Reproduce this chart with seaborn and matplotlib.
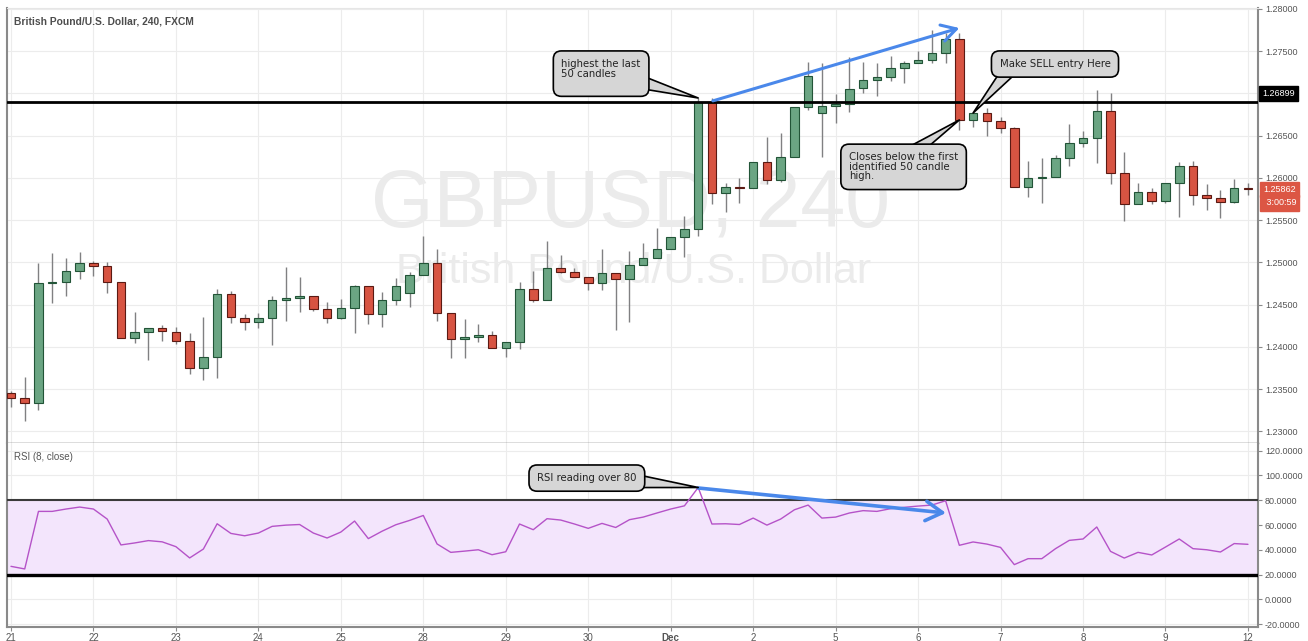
import numpy as np
import pandas as pd
import matplotlib.pyplot as plt
import matplotlib.transforms as mtransforms
import seaborn as sns

# GBPUSD 4h candles
opens = [1.23453, 1.23394, 1.23335, 1.24755, 1.24767, 1.24897, 1.24992, 1.24956, 1.24767, 1.24104,
         1.24175, 1.24222, 1.24175, 1.24069, 1.23749, 1.23879, 1.24625, 1.24341, 1.24293, 1.24341,
         1.24554, 1.24577, 1.24601, 1.24447, 1.24341, 1.24459, 1.24719, 1.24388, 1.24554, 1.24637,
         1.24850, 1.24992, 1.24400, 1.24092, 1.24116, 1.24140, 1.23986, 1.24057, 1.24684, 1.24554,
         1.24932, 1.24885, 1.24826, 1.24755, 1.24873, 1.24802, 1.24968, 1.25051, 1.25157, 1.25299,
         1.25394, 1.26899, 1.25820, 1.25891, 1.25879, 1.26187, 1.25974, 1.26246, 1.26837, 1.26766,
         1.26849, 1.26873, 1.27062, 1.27157, 1.27192, 1.27299, 1.27358, 1.27394, 1.27476, 1.27642,
         1.26684, 1.26766, 1.26672, 1.26589, 1.25891, 1.25997, 1.26009, 1.26234, 1.26411, 1.26471,
         1.26790, 1.26057, 1.25690, 1.25832, 1.25725, 1.25938, 1.26139, 1.25796, 1.25761, 1.25713,
         1.25879]
highs = [1.23477, 1.23643, 1.24992, 1.25110, 1.25051, 1.25122, 1.25015, 1.25003, 1.24767, 1.24412,
         1.24222, 1.24258, 1.24234, 1.24163, 1.24353, 1.24684, 1.24660, 1.24388, 1.24400, 1.24601,
         1.24944, 1.24826, 1.24601, 1.24530, 1.24566, 1.24731, 1.24719, 1.24648, 1.24814, 1.24885,
         1.25311, 1.25157, 1.24400, 1.24329, 1.24270, 1.24187, 1.24057, 1.24767, 1.24897, 1.25252,
         1.25086, 1.24932, 1.24826, 1.25157, 1.24873, 1.25134, 1.25228, 1.25406, 1.25299, 1.25548,
         1.26944, 1.26944, 1.25938, 1.25997, 1.26187, 1.26482, 1.26530, 1.26837, 1.27370, 1.27358,
         1.26991, 1.27429, 1.27370, 1.27358, 1.27441, 1.27382, 1.27500, 1.27749, 1.27713, 1.27713,
         1.26778, 1.26826, 1.26719, 1.26601, 1.26199, 1.26234, 1.26270, 1.26636, 1.26553, 1.27039,
         1.27003, 1.26305, 1.25938, 1.25879, 1.25938, 1.26187, 1.26199, 1.25926, 1.25855, 1.25985,
         1.25938]
lows = [1.23288, 1.23122, 1.23252, 1.24518, 1.24601, 1.24802, 1.24838, 1.24637, 1.24104, 1.24045,
        1.23844, 1.24069, 1.24033, 1.23678, 1.23607, 1.23631, 1.24282, 1.24199, 1.24222, 1.24021,
        1.24305, 1.24412, 1.24424, 1.24282, 1.24329, 1.24163, 1.24270, 1.24234, 1.24495, 1.24471,
        1.24850, 1.24305, 1.23867, 1.23867, 1.24057, 1.23986, 1.23879, 1.23974, 1.24530, 1.24554,
        1.24873, 1.24826, 1.24672, 1.24672, 1.24199, 1.24293, 1.24968, 1.25051, 1.25157, 1.25063,
        1.25311, 1.25690, 1.25595, 1.25702, 1.25879, 1.25926, 1.25950, 1.26246, 1.26802, 1.26246,
        1.26648, 1.26778, 1.27003, 1.26968, 1.27145, 1.27121, 1.27358, 1.27358, 1.27358, 1.26565,
        1.26601, 1.26494, 1.26530, 1.25891, 1.25773, 1.25702, 1.26009, 1.26139, 1.26364, 1.26175,
        1.25926, 1.25489, 1.25690, 1.25690, 1.25702, 1.25536, 1.25678, 1.25619, 1.25524, 1.25702,
        1.25796]
closes = [1.23394, 1.23335, 1.24755, 1.24767, 1.24897, 1.24992, 1.24956, 1.24767, 1.24104, 1.24175,
          1.24222, 1.24187, 1.24069, 1.23749, 1.23879, 1.24625, 1.24353, 1.24293, 1.24341, 1.24554,
          1.24577, 1.24601, 1.24447, 1.24341, 1.24459, 1.24719, 1.24388, 1.24554, 1.24719, 1.24850,
          1.24992, 1.24400, 1.24092, 1.24116, 1.24140, 1.23986, 1.24057, 1.24684, 1.24554, 1.24932,
          1.24885, 1.24826, 1.24755, 1.24873, 1.24802, 1.24968, 1.25051, 1.25157, 1.25299, 1.25394,
          1.26899, 1.25820, 1.25891, 1.25879, 1.26187, 1.25974, 1.26246, 1.26837, 1.27204, 1.26849,
          1.26873, 1.27050, 1.27157, 1.27192, 1.27299, 1.27358, 1.27394, 1.27476, 1.27642, 1.26684,
          1.26766, 1.26672, 1.26589, 1.25891, 1.25997, 1.26009, 1.26234, 1.26411, 1.26471, 1.26790,
          1.26057, 1.25690, 1.25832, 1.25725, 1.25938, 1.26139, 1.25796, 1.25761, 1.25713, 1.25879,
          1.25862]
rsi_values = [26.6, 24.5, 71.0, 71.0, 72.9, 74.5, 72.9, 64.8, 43.9, 45.5, 47.4, 46.4, 42.5, 33.4, 40.6,
              61.0, 53.2, 51.3, 53.5, 58.9, 59.9, 60.4, 53.5, 49.5, 54.3, 63.2, 49.0, 55.0, 60.2, 63.7,
              67.7, 44.7, 37.9, 38.9, 40.0, 36.0, 38.4, 60.8, 56.2, 65.1, 64.0, 60.8, 57.3, 61.3, 58.0,
              64.3, 66.4, 69.7, 72.9, 75.5, 90.3, 60.8, 61.0, 60.4, 65.6, 59.9, 64.8, 72.3, 76.1, 65.6,
              66.4, 69.7, 71.6, 71.0, 73.2, 74.3, 75.3, 76.1, 79.6, 43.6, 46.3, 44.6, 41.9, 28.0, 32.8,
              32.8, 40.9, 47.6, 48.7, 58.4, 38.7, 33.3, 37.9, 35.8, 42.2, 48.7, 40.9, 40.0, 38.2, 45.0,
              44.4]
day_labels = ['21', '22', '23', '24', '25', '28', '29', '30', 'Dec', '2', '5', '6', '7', '8', '9', '12']
price_ticks = [1.230, 1.235, 1.240, 1.245, 1.250, 1.255, 1.260, 1.265, 1.270, 1.275, 1.280]
rsi_ticks = [-20, 0, 20, 40, 60, 80, 100, 120]
level_price = 1.26899
last_price = 1.25862

df = pd.DataFrame({'open': opens, 'high': highs, 'low': lows, 'close': closes, 'rsi': rsi_values})
df['bar'] = np.arange(len(df))
df['up'] = df['close'] >= df['open']
day_pos = list(range(0, len(df), 6))

sns.set_style('whitegrid', {'grid.color': '#ececec', 'axes.edgecolor': '#8a8a8a'})
plt.rcParams['font.family'] = ['Liberation Sans', 'DejaVu Sans']

fig = plt.figure(figsize=(13.08, 6.41), dpi=100)
ax = fig.add_axes([0.00535, 0.30889, 0.95642, 0.67863])
ax_rsi = fig.add_axes([0.00535, 0.02184, 0.95642, 0.28705], sharex=ax)

# watermark
ax.text(0.4988, 0.545, 'GBPUSD, 240', transform=ax.transAxes, ha='center', va='center',
        fontsize=58, color='#ebebeb', zorder=1)
ax.text(0.5005, 0.392, 'British Pound/U.S. Dollar', transform=ax.transAxes, ha='center', va='center',
        fontsize=31, color='#ebebeb', zorder=1)

# candles
ax.vlines(df['bar'], df['low'], df['high'], color='#808082', lw=1, zorder=2)
for sub, fc, ec in [(df[df['up']], '#6ba583', '#225437'), (df[~df['up']], '#d75442', '#5b1a13')]:
    h = (sub['close'] - sub['open']).abs().clip(lower=0.00008)
    ax.bar(sub['bar'], h, bottom=sub[['open', 'close']].min(axis=1), width=0.62,
           color=fc, edgecolor=ec, lw=0.8, zorder=3)

ax.axhline(level_price, color='black', lw=2, zorder=4)

ax.set_xlim(-0.29, 90.73)
ax.set_ylim(1.228616, 1.280089)
ax.set_xticks(day_pos)
ax.tick_params(labelbottom=False, bottom=False)
ax.yaxis.tick_right()
ax.set_yticks(price_ticks)
# the 1.27000 label sits under the black level tag
ax.set_yticklabels(['' if abs(v - 1.27) < 1e-9 else f'{v:.5f}' for v in price_ticks])
ax.tick_params(axis='y', right=True, length=3, width=0.8, color='#8a8a8a', labelsize=6.5,
               labelcolor='#555555', pad=2)
ax.spines['top'].set_color('#e6e6e6')
ax.spines['bottom'].set_color('#555555')
ax.spines['bottom'].set_linewidth(1)
for s in ['left', 'right']:
    ax.spines[s].set_color('#8a8a8a')
    ax.spines[s].set_linewidth(1.5)

# price labels on the right scale
trans = mtransforms.blended_transform_factory(ax.transAxes, ax.transData)
tag = dict(transform=trans, ha='left', va='center', fontsize=6.5, color='white', clip_on=False, zorder=10)
ax.text(1.0035, 1.2700, f'{level_price:.5f}', bbox=dict(boxstyle='square,pad=0.35', fc='black', ec='black'), **tag)
ax.text(1.0045, last_price, f'{last_price:.5f}', bbox=dict(boxstyle='square,pad=0.35', fc='#dc5644', ec='#dc5644'), **tag)
ax.text(1.0045, last_price - 0.0016, ' 3:00:59', bbox=dict(boxstyle='square,pad=0.35', fc='#dc5644', ec='#dc5644'), **tag)

fig.text(14 / 1308, 1 - 21 / 641, 'British Pound/U.S. Dollar, 240, FXCM', ha='left', va='center',
         fontsize=7.4, fontweight='bold', color='#4d4d4d')

# callouts
box = dict(boxstyle='round,pad=0.8,rounding_size=0.8', fc='#d6d6d6', ec='black', lw=1.2)
def callout(axis, text, xy, xytext, relpos, ha='left', va='top'):
    axis.annotate(text, xy=xy, xytext=xytext, ha=ha, va=va, fontsize=7.3, color='#222222',
                  family='DejaVu Sans', linespacing=0.95, bbox=box, zorder=8,
                  arrowprops=dict(arrowstyle='wedge,tail_width=0.9,shrink_factor=0.5',
                                  fc='#d6d6d6', ec='black', lw=1.2, relpos=relpos,
                                  patchA=None, shrinkA=0, shrinkB=0, mutation_scale=12))

callout(ax, 'highest the last\n50 candles\n', (50, highs[50]), (40.05, 1.27405), (0.88, 0.3))
callout(ax, 'Make SELL entry Here', (70, closes[70]), (75.96, 1.27346), (0.12, 0.3),
        ha='center', va='center')
callout(ax, 'Closes below the first\nidentified 50 candle\nhigh.', (69, closes[69]),
        (60.97, 1.26302), (0.5, 0.8))

ax.annotate('', xy=(69, 1.27772), xytext=(51.07, 1.26910),
            arrowprops=dict(arrowstyle='->,head_length=0.7,head_width=0.4', color='#4a88ea',
                            lw=2.2, mutation_scale=15, shrinkA=0, shrinkB=0), zorder=7)

# RSI panel
ax_rsi.axhspan(20, 80, color='#f3e5fc', zorder=1, lw=0)
ax_rsi.axhline(80, color='#3a3a3a', lw=1.5, zorder=3)
ax_rsi.axhline(20, color='black', lw=2.4, zorder=3)
sns.lineplot(data=df, x='bar', y='rsi', ax=ax_rsi, color='#b553c8', lw=1, zorder=4)
ax_rsi.set_xlabel('')
ax_rsi.set_ylabel('')
ax_rsi.set_ylim(-22.4, 126.25)
ax_rsi.yaxis.tick_right()
ax_rsi.set_yticks(rsi_ticks)
ax_rsi.set_yticklabels([f'{v:.4f}' for v in rsi_ticks])
ax_rsi.tick_params(axis='y', right=True, length=3, width=0.8, color='#8a8a8a', labelsize=6.5,
                   labelcolor='#555555', pad=2)
ax_rsi.set_xticks(day_pos)
ax_rsi.set_xticklabels(day_labels)
ax_rsi.tick_params(axis='x', bottom=True, length=3, width=0.8, color='#8a8a8a', labelsize=7,
                   labelcolor='#555555', pad=1)
ax_rsi.get_xticklabels()[8].set_fontweight('bold')
ax_rsi.spines['top'].set_visible(False)
for s in ['left', 'right', 'bottom']:
    ax_rsi.spines[s].set_color('#8a8a8a')
    ax_rsi.spines[s].set_linewidth(1.5)

ax_rsi.text(0.0056, 0.925, 'RSI (8, close)', transform=ax_rsi.transAxes, ha='left', va='center',
            fontsize=7, color='#555555')

callout(ax_rsi, 'RSI reading over 80', (50, rsi_values[50]), (41.9, 97.9), (0.9, 0.3),
        ha='center', va='center')
ax_rsi.annotate('', xy=(68.03, 69.7), xytext=(50, 89.9),
                arrowprops=dict(arrowstyle='->,head_length=0.6,head_width=0.35', color='#4a88ea',
                                lw=2.6, mutation_scale=20, shrinkA=0, shrinkB=0), zorder=7)

fig.savefig('out.png', dpi=100)
